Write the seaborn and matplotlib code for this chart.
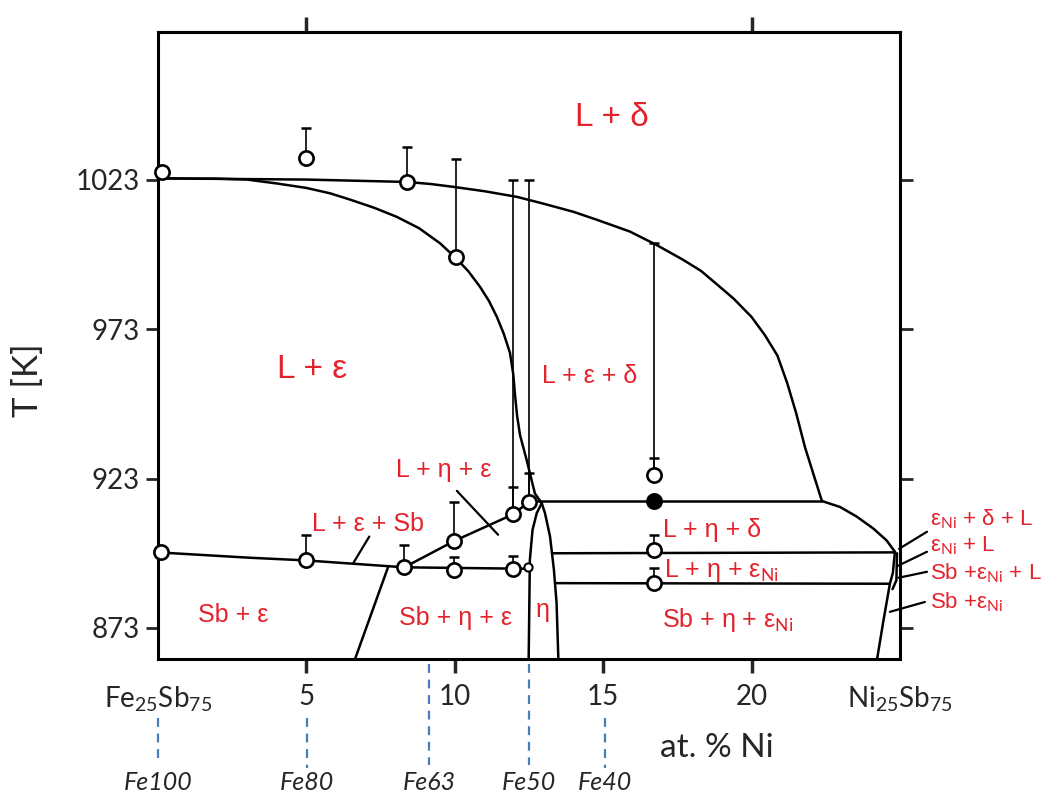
import numpy as np
import matplotlib
matplotlib.use("Agg")
import matplotlib.pyplot as plt
import seaborn as sns

# ---- data (x = at.% Ni, T in K) ----
# upper liquidus (L / L+delta)
liq_up_x = [0, 5, 8.4, 9.2, 10, 11, 12.1, 13, 14, 14.8, 15.9, 16.8, 17.7, 18.3, 18.8, 19.4, 20.0, 20.45,
            20.87, 21.2, 21.5, 21.8, 22.1, 22.37, 22.98, 23.54, 24.1, 24.55, 24.83]
liq_up_T = [1023.5, 1023.1, 1022.3, 1021.6, 1020.6, 1019.2, 1017.3, 1015, 1012.3, 1009.6, 1005.7, 1001.2,
            996.2, 992.5, 988.3, 983.2, 977.1, 971, 964.2, 955, 945, 933.5, 924, 915.5,
            913.5, 910.3, 906.3, 902.3, 898.5]
# lower liquidus (L+eps boundary)
liq_lo_x = [0, 2, 3, 4, 5, 5.8, 6.5, 7.3, 8.05, 8.8, 9.5, 10.0, 10.45, 10.85, 11.15, 11.42, 11.65, 11.86,
            11.97, 12.03, 12.1, 12.2, 12.42, 12.7, 12.93]
liq_lo_T = [1023.5, 1023.4, 1023.1, 1021.8, 1020.3, 1018.5, 1016.3, 1013.6, 1010.6, 1006.8, 1001.8, 997.2,
            992.5, 987.2, 982.5, 977.1, 971.5, 965.1, 958, 951, 944, 937.5, 929.3, 918, 914.8]
# eutectic line on the Fe side
eut_x = [0, 3.1, 5.0, 8.3, 12.53]
eut_T = [898.3, 896.5, 895.6, 893.3, 892.8]
# rising line L+eta+eps
rise_x = [8.3, 10.0, 12.0, 12.5]
rise_T = [893.3, 902.2, 911.2, 915.3]
# Sb+eps / Sb+eta+eps border
sb_x = [7.75, 6.64]
sb_T = [893.3, 862.6]
# eta phase
eta_left_x = [12.93, 12.76, 12.62, 12.53, 12.49]
eta_left_T = [914.8, 911.4, 905.8, 895.8, 862.6]
eta_right_x = [12.93, 13.04, 13.21, 13.34, 13.43, 13.49]
eta_right_T = [914.8, 911.4, 903.6, 892.5, 881.4, 862.6]
# horizontal invariant lines
h916_x = [12.5, 22.37]
h916_T = [915.5, 915.5]
h898_x = [13.28, 24.83]
h898_T = [898.0, 898.3]
h888_x = [13.38, 24.66]
h888_T = [888.0, 887.8]
# eps_Ni boundaries
eni_x = [24.83, 24.76, 24.66, 24.43, 24.23]
eni_T = [898.5, 891.4, 887.8, 874.7, 862.6]
eni2_x = [24.9, 24.88, 24.75]
eni2_T = [898.0, 889.0, 886.0]

# measured points with upper error bar
pt_x = [5.0, 8.39, 10.05, 11.97, 12.51, 16.7, 16.7, 16.7, 9.97, 8.29, 4.99, 9.97, 11.97]
pt_T = [1030.4, 1022.3, 997.2, 911.2, 915.3, 924.2, 899.0, 888.2, 902.2, 893.3, 895.6, 892.4, 892.8]
pt_top = [1040.4, 1034.0, 1029.9, 920.3, 924.8, 929.8, 904.2, 893.0, 915.3, 900.8, 904.2, 896.9, 897.0]
# long bars
long_x = [11.97, 12.51, 16.7]
long_T = [911.2, 915.3, 924.2]
long_top = [1023.0, 1023.0, 1002.0]
# points without bars
plain_x = [0.15, 0.1]
plain_T = [1025.5, 898.3]
small_x = [12.48]
small_T = [893.5]
filled_x = [16.7]
filled_T = [915.5]

yticks = [873, 923, 973, 1023]
xticks = [0, 5, 10, 15, 20, 25]
xticklabels = ["Fe$_{25}$Sb$_{75}$", "5", "10", "15", "20", "Ni$_{25}$Sb$_{75}$"]

fe_x = [0, 5.02, 9.13, 12.5, 15.06]
fe_labels = ["Fe100", "Fe80", "Fe63", "Fe50", "Fe40"]

sns.set_style("ticks")
plt.rcParams["font.family"] = ["Lato", "DejaVu Sans"]
plt.rcParams["mathtext.fontset"] = "custom"
plt.rcParams["mathtext.rm"] = "Lato"

RED = "#e4222b"
BLUE = "#4a7ebb"
TXT = "#262626"

fig = plt.figure(figsize=(10.51, 7.94), dpi=100)
ax = fig.add_axes([0.1503, 0.1700, 0.7060, 0.7897])
ax.set_xlim(0, 25)
ax.set_ylim(862.6, 1072.5)

lw = 1.8
curves = [(liq_up_x, liq_up_T), (liq_lo_x, liq_lo_T), (eut_x, eut_T), (rise_x, rise_T), (sb_x, sb_T),
          (eta_left_x, eta_left_T), (eta_right_x, eta_right_T), (h916_x, h916_T), (h898_x, h898_T),
          (h888_x, h888_T), (eni_x, eni_T), (eni2_x, eni2_T)]
for cx, cy in curves:
    sns.lineplot(x=cx, y=cy, sort=False, estimator=None, color="black", lw=lw, ax=ax, legend=False)

# error bars
pt_x_a = np.array(pt_x)
pt_T_a = np.array(pt_T)
ax.errorbar(pt_x_a, pt_T_a, yerr=[np.zeros(len(pt_T)), np.array(pt_top) - pt_T_a], fmt="none",
            ecolor="black", elinewidth=1.2, capsize=3.5, capthick=1.8, zorder=3)
ax.errorbar(long_x, long_T, yerr=[np.zeros(len(long_T)), np.array(long_top) - np.array(long_T)], fmt="none",
            ecolor="black", elinewidth=1.2, capsize=3.5, capthick=1.8, zorder=3)

# markers
sns.scatterplot(x=pt_x + plain_x, y=pt_T + plain_T, s=105, color="white", edgecolor="black",
                linewidth=1.9, zorder=5, ax=ax, legend=False, clip_on=False)
sns.scatterplot(x=small_x, y=small_T, s=35, color="white", edgecolor="black",
                linewidth=1.5, zorder=5, ax=ax, legend=False)
sns.scatterplot(x=filled_x, y=filled_T, s=105, color="black", edgecolor="black",
                linewidth=1.9, zorder=5, ax=ax, legend=False)

# leader lines
ax.plot([10.07, 11.46], [918.9, 904.2], color="black", lw=1.6)
ax.plot([7.12, 6.58], [903.6, 894.7], color="black", lw=1.6)
leaders = [([25.91, 24.97], [905.2, 899.5]), ([25.91, 24.93], [898.5, 893.8]),
           ([25.91, 24.95], [891.8, 889.8]), ([25.84, 24.66], [881.7, 878.4])]
for lx, ly in leaders:
    ax.plot(lx, ly, color="black", lw=1.6, clip_on=False)

# phase labels
lab = dict(color=RED, family=["Liberation Sans", "DejaVu Sans"], ha="center", va="center")
ax.text(15.3, 1043.8, "L + δ", fontsize=24, **lab)
ax.text(5.19, 959.4, "L + ε", fontsize=24, **lab)
ax.text(14.56, 957.4, "L + ε + δ", fontsize=18, **lab)
ax.text(9.64, 926.0, "L + η + ε", fontsize=18, **lab)
ax.text(7.08, 907.8, "L + ε + Sb", fontsize=18, **lab)
ax.text(2.55, 877.4, "Sb + ε", fontsize=18, **lab)
ax.text(10.04, 876.3, "Sb + η + ε", fontsize=18, **lab)
ax.text(12.95, 879.0, "η", fontsize=18, **lab)
lab_l = dict(lab, ha="left")
ax.text(17.0, 905.8, "L + η + δ", fontsize=18, **lab_l)
ax.text(17.05, 892.4, "L + η + ε$_{\\mathrm{Ni}}$", fontsize=18, **lab_l)
ax.text(16.98, 875.7, "Sb + η + ε$_{\\mathrm{Ni}}$", fontsize=18, **lab_l)
ax.text(26.0, 909.4, "ε$_{\\mathrm{Ni}}$ + δ + L", fontsize=16, **lab_l)
ax.text(26.0, 900.5, "ε$_{\\mathrm{Ni}}$ + L", fontsize=16, **lab_l)
ax.text(26.0, 891.2, "Sb +ε$_{\\mathrm{Ni}}$ + L", fontsize=16, **lab_l)
ax.text(26.0, 881.7, "Sb +ε$_{\\mathrm{Ni}}$", fontsize=16, **lab_l)

# axes styling
for sp in ax.spines.values():
    sp.set_visible(True)
    sp.set_linewidth(2.2)
    sp.set_color("black")
ax.set_yticks(yticks)
ax.set_yticklabels([str(t) for t in yticks], fontsize=20, color=TXT)
ax.set_xticks(xticks)
ax.set_xticklabels(xticklabels, fontsize=20, color=TXT)
ax.tick_params(axis="y", direction="out", length=9, width=2, left=True, right=True, pad=4)
ax.tick_params(axis="x", direction="out", length=10, width=2.5, bottom=True, pad=8)
ax.xaxis.get_major_ticks()[0].tick1line.set_visible(False)
ax.xaxis.get_major_ticks()[-1].tick1line.set_visible(False)
sec = ax.secondary_xaxis("top")
sec.set_xticks([5, 20])
sec.set_xticklabels(["", ""])
sec.tick_params(direction="out", length=11, width=2.5)
sec.spines["top"].set_linewidth(2.2)

fig.text(28 / 1051, 1 - 380 / 794, "T [K]", rotation=90, fontsize=25, color=TXT, ha="center", va="center")
fig.text(717 / 1051, 1 - 748 / 794, "at. % Ni", fontsize=24, color=TXT, ha="center", va="center")

# composition markers below the axis
dash_top = [843, 843, 861, 861, 843]
dash_bot = [828, 826, 827, 827, 826]
for fx, t0, t1, fl in zip(fe_x, dash_top, dash_bot, fe_labels):
    ax.plot([fx, fx], [t0, t1], color=BLUE, lw=1.6, ls=(0, (4, 3)), clip_on=False)
    ax.text(fx, 821.1, fl, fontsize=18, style="italic", color=TXT, ha="center", va="center")

fig.savefig("out.png", dpi=100)
